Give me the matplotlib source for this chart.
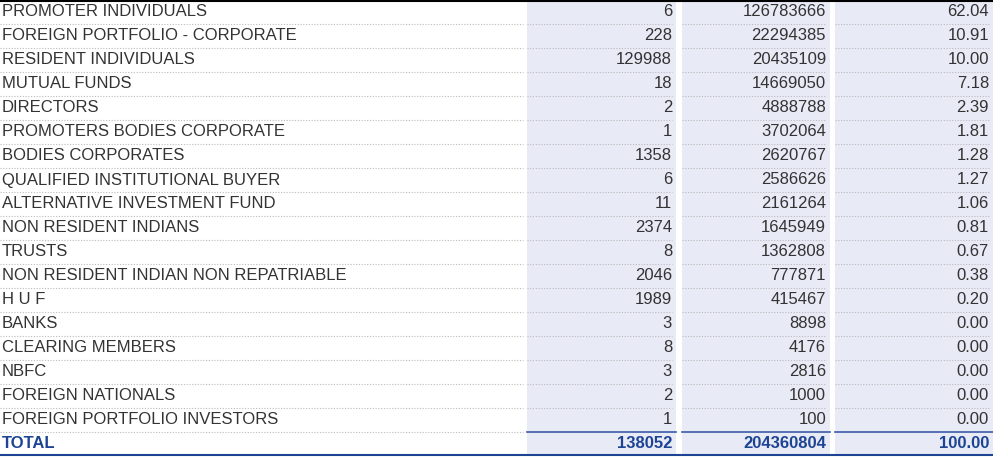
import matplotlib
matplotlib.use("Agg")
import matplotlib.pyplot as plt
from matplotlib.patches import Rectangle

categories = ["PROMOTER INDIVIDUALS","FOREIGN PORTFOLIO - CORPORATE","RESIDENT INDIVIDUALS","MUTUAL FUNDS","DIRECTORS",
"PROMOTERS BODIES CORPORATE","BODIES CORPORATES","QUALIFIED INSTITUTIONAL BUYER","ALTERNATIVE INVESTMENT FUND",
"NON RESIDENT INDIANS","TRUSTS","NON RESIDENT INDIAN NON REPATRIABLE","H U F","BANKS","CLEARING MEMBERS","NBFC",
"FOREIGN NATIONALS","FOREIGN PORTFOLIO INVESTORS"]
holders = [6,228,129988,18,2,1,1358,6,11,2374,8,2046,1989,3,8,3,2,1]
shares = [126783666,22294385,20435109,14669050,4888788,3702064,2620767,2586626,2161264,1645949,1362808,777871,415467,8898,4176,2816,1000,100]
percent = ["62.04","10.91","10.00","7.18","2.39","1.81","1.28","1.27","1.06","0.81","0.67","0.38","0.20","0.00","0.00","0.00","0.00","0.00"]
total = ["TOTAL","138052","204360804","100.00"]

W, H = 993, 457
fig = plt.figure(figsize=(W/100, H/100), dpi=100)
ax = fig.add_axes([0, 0, 1, 1])
ax.set_xlim(0, W); ax.set_ylim(H, 0); ax.axis("off")
plt.rcParams['font.family'] = ['Liberation Sans', 'DejaVu Sans']

bg = "#e8eaf6"
cols = [(527, 676), (682, 830), (835, 993)]
for x0, x1 in cols:
    ax.add_patch(Rectangle((x0, 0), x1-x0, 455, color=bg, lw=0, zorder=0))
ax.plot([0, W], [1, 1], color="black", lw=1.5)

rh = 24
fs = 12
txt = "#333333"
for i, c in enumerate(categories):
    yc = 12 + i*rh
    ax.text(2, yc, c, fontsize=fs, va="center", ha="left", color=txt)
    ax.text(672, yc, str(holders[i]), fontsize=fs, va="center", ha="right", color=txt)
    ax.text(826, yc, str(shares[i]), fontsize=fs, va="center", ha="right", color=txt)
    ax.text(989, yc, percent[i], fontsize=fs, va="center", ha="right", color=txt)
    if i < len(categories)-1:
        ys = (i+1)*rh
        for x0, x1 in [(0, 523)] + cols:
            ax.plot([x0, x1 - (4 if x1 != 523 else 0)], [ys, ys], color="#bbbbbb", lw=0.8, ls=(0, (1, 1.5)))

ty = 432
blue = "#1d4494"
for x0, x1 in cols:
    ax.plot([x0, x1], [ty, ty], color="#3a5ca8", lw=1.2)
ax.plot([0, 523], [ty, ty], color="#bbbbbb", lw=0.8, ls=(0, (1, 1.5)))
ax.plot([0, W], [455, 455], color=blue, lw=1.5)
yc = 443
ax.text(2, yc, total[0], fontsize=fs, va="center", ha="left", color=blue, weight="bold")
ax.text(672, yc, total[1], fontsize=fs, va="center", ha="right", color=blue, weight="bold")
ax.text(826, yc, total[2], fontsize=fs, va="center", ha="right", color=blue, weight="bold")
ax.text(989, yc, total[3], fontsize=fs, va="center", ha="right", color=blue, weight="bold")

fig.savefig("out.png", dpi=100)
